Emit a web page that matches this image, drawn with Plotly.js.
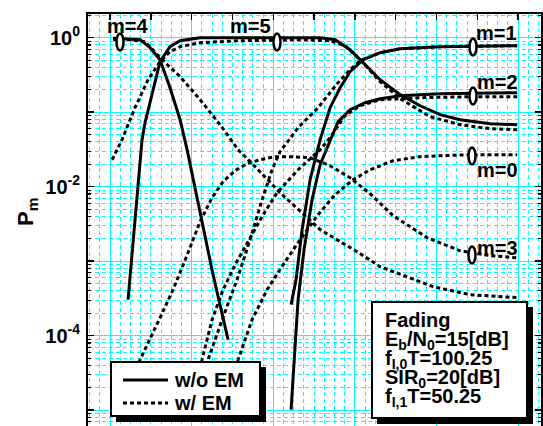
<!DOCTYPE html>
<html><head><meta charset="utf-8">
<script src="https://cdn.plot.ly/plotly-3.0.1.min.js"></script>
<style>html,body{margin:0;padding:0;overflow:hidden;background:#fff;} #chart{width:543px;height:460px;}</style>
</head><body><div id="chart"></div><script>
// ---- data ----
// w/o EM (solid)
const s4x = [0.037,0.368,0.490,0.613,0.735,0.858,0.944,1.103,1.262,1.446];
const s4y = [0.98,0.94,0.734,0.507,0.213,0.0793,0.0314,0.00462,6.59e-4,8.84e-5];
const s5x = [0.221,0.306,0.392,0.429,0.515,0.613,0.735,0.858,1.103,1.593,2.083,2.574,2.757,2.941,3.100,3.309,3.554,3.799,4.044,4.289,4.657,4.988];
const s5y = [3.04e-4,3.61e-3,0.0428,0.0723,0.172,0.476,0.757,0.911,1.0,1.0,1.0,1.0,0.94,0.69,0.462,0.273,0.172,0.122,0.0926,0.0793,0.0701,0.068];
const s1x = [2.218,2.279,2.353,2.451,2.574,2.696,2.819,2.941,3.100,3.309,3.554,4.044,4.988];
const s1y = [2.61e-4,5.65e-4,2.65e-3,0.0124,0.0428,0.1149,0.213,0.350,0.507,0.629,0.712,0.757,0.781];
const s2x = [2.218,2.255,2.304,2.377,2.475,2.574,2.672,2.794,2.941,3.125,3.309,3.554,4.044,4.988];
const s2y = [1.02e-5,4.76e-5,3.04e-4,1.43e-3,6.69e-3,0.0197,0.0366,0.0746,0.108,0.134,0.1518,0.1665,0.177,0.183];
// w/ EM (dotted)
const d4x = [0.037,0.245,0.429,0.613,0.858,1.103,1.348,1.569,1.777,2.083,2.574,3.027,3.309,3.958,4.412,4.988];
const d4y = [0.94,0.94,0.884,0.539,0.300,0.1472,0.068,0.0314,0.0186,0.00831,0.00265,0.00134,8.44e-4,4.55e-4,3.55e-4,3.24e-4];
const d5x = [0.025,0.147,0.306,0.466,0.613,0.735,0.858,1.103,1.593,2.328,2.696,2.880,3.100,3.309,3.554,3.922,4.289,4.657,4.988];
const d5y = [0.023,0.0428,0.1149,0.273,0.476,0.649,0.757,0.857,0.911,0.94,0.911,0.781,0.462,0.257,0.1518,0.087,0.068,0.060,0.0582];
const d3x = [0.184,0.368,0.613,0.772,0.931,1.103,1.250,1.385,1.532,1.679,1.838,2.022,2.206,2.451,2.696,2.941,3.186,3.468,3.885,4.289,4.657,4.988];
const d3y = [1.61e-5,4.76e-5,1.74e-4,4.14e-4,1.11e-3,3.39e-3,7.12e-3,0.01167,0.0164,0.0204,0.023,0.0253,0.0253,0.0245,0.0191,0.0132,0.00805,0.00408,0.00207,0.00138,0.00119,0.00111];
const d0x = [1.446,1.569,1.740,1.924,2.120,2.328,2.549,2.757,2.978,3.186,3.468,3.799,4.081,4.412,4.988];
const d0y = [1.61e-5,4.76e-5,1.64e-4,4.14e-4,8.97e-4,1.94e-3,4.21e-3,7.81e-3,0.0124,0.0169,0.0223,0.0253,0.0261,0.0269,0.0269];
const d1x = [1.152,1.201,1.373,1.556,1.716,1.863,1.985,2.083,2.304,2.549,2.782,2.941,3.064,3.309,3.554,4.044,4.988];
const d1y = [2.57e-5,4.76e-5,1.64e-4,5.65e-4,1.94e-3,6.69e-3,0.0169,0.0295,0.0619,0.1149,0.241,0.372,0.491,0.629,0.712,0.757,0.781];
const d2x = [1.078,1.127,1.250,1.385,1.532,1.716,1.875,2.047,2.304,2.574,2.696,2.880,3.064,3.309,3.799,4.412,4.988];
const d2y = [1.88e-5,4.76e-5,1.64e-4,4.14e-4,8.97e-4,2.07e-3,4.21e-3,8.31e-3,0.0169,0.0314,0.0455,0.0897,0.1222,0.1472,0.1565,0.1614,0.1614];

const seriesNames = ['w/o EM', 'w/ EM'];
const yTickVals = [1, 0.01, 1e-4];
const yTickText = ['10<sup>0</sup>', '10<sup>-2</sup>', '10<sup>-4</sup>'];
const yTitle = 'P<sub>m</sub>';
const curveLabels = ['m=4','m=5','m=1','m=2','m=0','m=3'];
const infoLines = ['Fading','E<sub>b</sub>/N<sub>0</sub>=15[dB]','f<sub>I,0</sub>T=100.25','SIR<sub>0</sub>=20[dB]','f<sub>I,1</sub>T=50.25'];

// ---- styling / layout ----
const FONT = 'Liberation Sans, Arial, Helvetica, sans-serif';
const CYAN = '#00ffff';
const DOT = '4px,3px';
function tr(x, y, dotted) {
  return {x: x, y: y, type: 'scatter', mode: 'lines',
    line: {color: 'black', width: 3, dash: dotted ? DOT : 'solid'},
    name: dotted ? seriesNames[1] : seriesNames[0], showlegend: false, hoverinfo: 'skip'};
}
const data = [
  tr(s4x, s4y, false), tr(s5x, s5y, false), tr(s1x, s1y, false), tr(s2x, s2y, false),
  tr(d4x, d4y, true), tr(d5x, d5y, true), tr(d3x, d3y, true), tr(d0x, d0y, true),
  tr(d1x, d1y, true), tr(d2x, d2y, true),
  // empty helper trace so that the label axes (top ticks, left labels) are drawn
  {x: [null], y: [null], xaxis: 'x2', yaxis: 'y2', type: 'scatter', mode: 'lines', showlegend: false, hoverinfo: 'skip'}
];

const L = 88, T = 14, W = 453, H = 426;
const px = X => (X - L) / W;
const py = Y => 1 - (Y - T) / H;
const bold = (size) => ({family: FONT, size: size, color: 'black', weight: 'bold'});

const labelPos = [[127,26],[250,26],[496,33],[497,82],[497,170],[497,248]];
const ellPos = [[120,42],[277,42],[473,47],[473,96],[472,156],[472,255]];

const annotations = [];
curveLabels.forEach((t, i) => annotations.push({
  text: t, xref: 'paper', yref: 'paper', x: px(labelPos[i][0]), y: py(labelPos[i][1]),
  xanchor: 'center', yanchor: 'middle', showarrow: false, font: bold(20)
}));
const infoY = [320, 340, 359, 378, 397];
infoLines.forEach((t, i) => annotations.push({
  text: t, xref: 'paper', yref: 'paper', x: px(384), y: py(infoY[i]),
  xanchor: 'left', yanchor: 'middle', showarrow: false, borderpad: 0, font: bold(20)
}));
// y axis title
annotations.push({text: yTitle, xref: 'paper', yref: 'paper', x: px(27), y: py(212), textangle: -90,
  xanchor: 'center', yanchor: 'middle', showarrow: false, font: bold(22)});
// legend texts
annotations.push({text: seriesNames[0], xref: 'paper', yref: 'paper', x: px(173), y: py(380),
  xanchor: 'left', yanchor: 'middle', showarrow: false, borderpad: 0, font: bold(20)});
annotations.push({text: seriesNames[1], xref: 'paper', yref: 'paper', x: px(173), y: py(403),
  xanchor: 'left', yanchor: 'middle', showarrow: false, borderpad: 0, font: bold(20)});

const shapes = [];
ellPos.forEach(p => shapes.push({
  type: 'circle', xref: 'paper', yref: 'paper', layer: 'above',
  x0: px(p[0] - 3.5), x1: px(p[0] + 3.5), y0: py(p[1] + 8.5), y1: py(p[1] - 8.5),
  line: {color: 'black', width: 2.5}, fillcolor: 'white'
}));
function box(x0, y0, x1, y1) {
  shapes.push({type: 'rect', xref: 'paper', yref: 'paper', layer: 'above',
    x0: px(x0 + 5), x1: px(x1 + 6), y0: py(y1 + 6), y1: py(y0 + 5), line: {width: 0}, fillcolor: 'black'});
  shapes.push({type: 'rect', xref: 'paper', yref: 'paper', layer: 'above',
    x0: px(x0), x1: px(x1), y0: py(y1), y1: py(y0), line: {width: 2, color: 'black'}, fillcolor: 'white'});
}
box(111, 362, 260, 416);   // legend box
box(372, 302, 527, 418);   // info box
shapes.push({type: 'line', xref: 'paper', yref: 'paper', layer: 'above',
  x0: px(123), x1: px(168), y0: py(380), y1: py(380), line: {color: 'black', width: 3}});
shapes.push({type: 'line', xref: 'paper', yref: 'paper', layer: 'above',
  x0: px(123), x1: px(168), y0: py(403), y1: py(403), line: {color: 'black', width: 3, dash: DOT}});

const layout = {
  width: 543, height: 460,
  margin: {l: L, r: 543 - L - W, t: T, b: 460 - T - H, pad: 0},
  paper_bgcolor: 'white', plot_bgcolor: 'white',
  font: bold(20),
  showlegend: false,
  xaxis: {range: [-0.27, 5.28], dtick: 1, tick0: 0, showgrid: true, gridcolor: CYAN, gridwidth: 1,
    zeroline: false, showline: true, linecolor: 'black', linewidth: 2, mirror: true,
    ticks: '', showticklabels: false,
    minor: {dtick: 0.125, showgrid: true, gridcolor: CYAN, gridwidth: 1, griddash: DOT}},
  xaxis2: {range: [-0.27, 5.28], overlaying: 'x', side: 'top', anchor: 'y', dtick: 0.5, tick0: 0,
    ticks: 'inside', ticklen: 6, tickwidth: 1.5, tickcolor: 'black', showgrid: false, zeroline: false,
    showline: false, showticklabels: false},
  yaxis: {type: 'log', range: [-5.4, 0.318], dtick: 1, tick0: 0, showticklabels: false,
    showgrid: true, gridcolor: CYAN, gridwidth: 1, zeroline: false,
    showline: true, linecolor: 'black', linewidth: 2, mirror: 'ticks',
    ticks: 'inside', ticklen: 6, tickwidth: 1.5, tickcolor: 'black',
    minor: {dtick: 'D1', ticks: 'inside', ticklen: 3, tickwidth: 1.2, tickcolor: 'black',
      showgrid: true, gridcolor: CYAN, gridwidth: 1, griddash: DOT}},
  yaxis2: {type: 'log', range: [-5.4, 0.318], overlaying: 'y', side: 'left', anchor: 'x',
    tickmode: 'array', tickvals: yTickVals, ticktext: yTickText, ticks: '', ticklabelstandoff: 7,
    showgrid: false, zeroline: false, showline: false, tickfont: bold(20)},
  annotations: annotations,
  shapes: shapes
};
Plotly.newPlot('chart', data, layout, {staticPlot: true, displayModeBar: false});
</script></body></html>
